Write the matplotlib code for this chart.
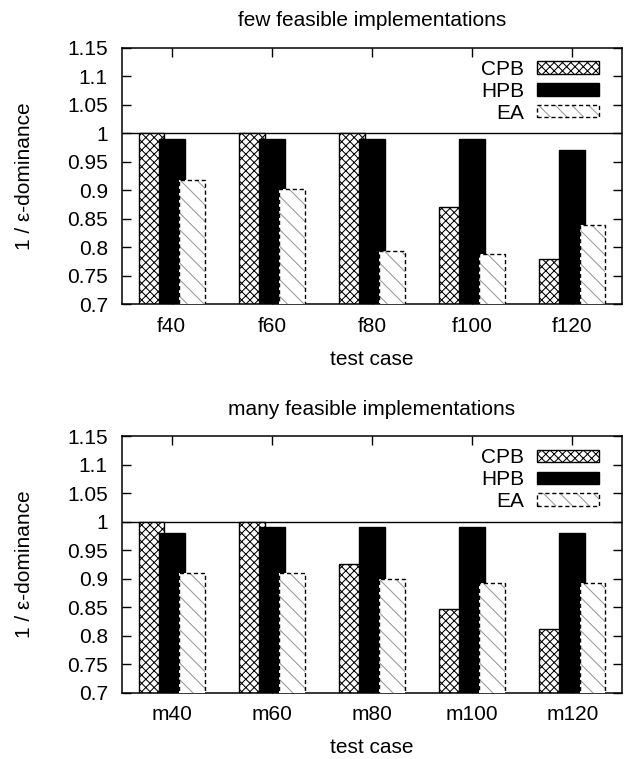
import matplotlib
matplotlib.use("Agg")
import matplotlib.pyplot as plt
import numpy as np
from matplotlib.legend_handler import HandlerTuple

plt.rcParams['font.family'] = ['Liberation Sans', 'DejaVu Sans']
plt.rcParams['hatch.linewidth'] = 0.75

categories_few = ["f40", "f60", "f80", "f100", "f120"]
categories_many = ["m40", "m60", "m80", "m100", "m120"]
series_names = ["CPB", "HPB", "EA"]

few_cpb = [1.0, 1.0, 1.0, 0.87, 0.78]
few_hpb = [0.99, 0.99, 0.99, 0.99, 0.97]
few_ea = [0.918, 0.902, 0.794, 0.788, 0.84]

many_cpb = [1.0, 1.0, 0.925, 0.847, 0.812]
many_hpb = [0.98, 0.99, 0.99, 0.99, 0.98]
many_ea = [0.91, 0.91, 0.90, 0.892, 0.892]

yticks = [0.7, 0.75, 0.8, 0.85, 0.9, 0.95, 1.0, 1.05, 1.1, 1.15]
titles = ["few feasible implementations", "many feasible implementations"]

FS = 15
W = 0.255
OFF = 0.2

fig = plt.figure(figsize=(6.25, 7.59), dpi=100)
ax_top = fig.add_axes([0.1947, 0.599, 0.801, 0.338])
ax_bot = fig.add_axes([0.1947, 0.0874, 0.801, 0.338])


def draw(ax, cats, cpb, hpb, ea, title):
    x = np.arange(len(cats))
    ax.axhline(1.0, color='black', lw=1.0, zorder=1)
    b1 = ax.bar(x - OFF, cpb, W, color='white', edgecolor='black',
                hatch='xxxx', lw=1.0, zorder=2)
    b2 = ax.bar(x, hpb, W, color='black', edgecolor='black', lw=1.0, zorder=3)
    b3a = ax.bar(x + OFF, ea, W, color='white', edgecolor='0.6',
                 hatch='\\\\', lw=0, zorder=4)
    b3b = ax.bar(x + OFF, ea, W, fill=False, edgecolor='black',
                 linestyle=(0, (3, 2)), lw=1.0, zorder=5)
    ax.set_xlim(-0.5, len(cats) - 0.5)
    ax.set_ylim(0.7, 1.15)
    ax.set_xticks(x)
    ax.set_xticklabels(cats)
    ax.set_yticks(yticks)
    ax.set_yticklabels(["%g" % v for v in yticks])
    ax.tick_params(direction='in', length=6.5, width=1.0, top=True, right=True,
                   labelsize=FS)
    ax.tick_params(axis='y', pad=10)
    ax.tick_params(axis='x', pad=9)
    for s in ax.spines.values():
        s.set_linewidth(1.1)
    ax.set_xlabel("test case", fontsize=FS, labelpad=10)
    ax.set_ylabel("1 / ε-dominance", fontsize=FS, labelpad=24)
    ax.set_title(title, fontsize=FS, pad=15.5)
    leg = ax.legend([b1, b2, (b3a, b3b)], series_names,
                    handler_map={tuple: HandlerTuple(ndivide=1, pad=0)},
                    loc='upper right', bbox_to_anchor=(0.953, 0.953),
                    frameon=False, markerfirst=False, fontsize=FS,
                    borderpad=0, borderaxespad=0, handlelength=2.98,
                    handleheight=0.53, handletextpad=0.6, labelspacing=0.14)
    return leg


draw(ax_top, categories_few, few_cpb, few_hpb, few_ea, titles[0])
draw(ax_bot, categories_many, many_cpb, many_hpb, many_ea, titles[1])

fig.savefig("out.png", dpi=100)
